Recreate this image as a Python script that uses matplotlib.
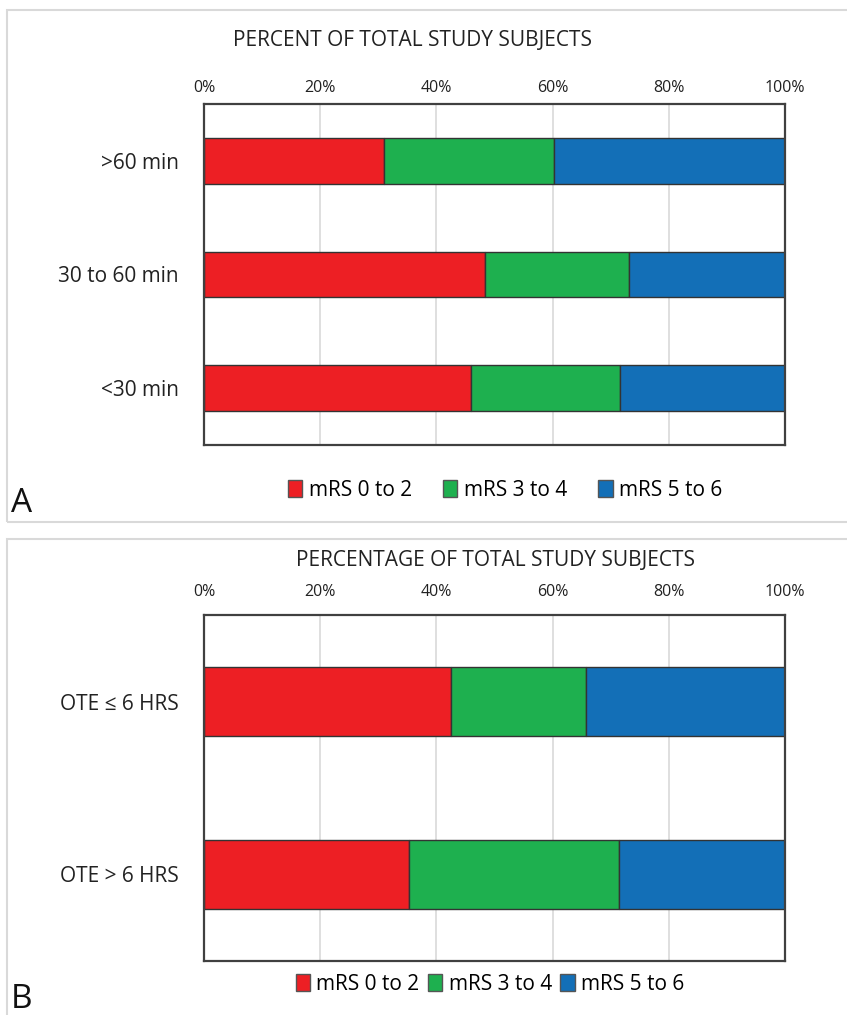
import matplotlib.pyplot as plt
from matplotlib.patches import Rectangle, Patch
import numpy as np

# data (fractions of study subjects)
series = ['mRS 0 to 2', 'mRS 3 to 4', 'mRS 5 to 6']
colors = ['#ED1F24', '#1EB04F', '#136FB7']

cats_a = ['>60 min', '30 to 60 min', '<30 min']
a_02 = [31.0, 48.3, 46.0]
a_34 = [29.2, 24.9, 25.6]
a_56 = [39.8, 26.8, 28.4]

cats_b = ['OTE \u2264 6 HRS', 'OTE > 6 HRS']
b_02 = [42.5, 35.2]
b_34 = [23.3, 36.2]
b_56 = [34.2, 28.6]

ticks = [0, 20, 40, 60, 80, 100]
tick_labels = ['0%', '20%', '40%', '60%', '80%', '100%']

plt.rcParams['font.family'] = ['Open Sans', 'DejaVu Sans']

W, H = 847, 1015
fig = plt.figure(figsize=(W / 100, H / 100), dpi=100)


def fx(px):
    return px / W


def fy(py):
    return 1 - py / H


# panel frames
for top, bot in [(10, 522), (539, 1030)]:
    fig.patches.append(Rectangle((fx(7), fy(bot)), fx(860) - fx(7), fy(top) - fy(bot),
                                 transform=fig.transFigure, fill=False,
                                 edgecolor='#d9d9d9', lw=1.5, zorder=0))


def panel(ax, cats, vals, title, title_x, title_y, label_pad):
    y = np.arange(len(cats))
    left = np.zeros(len(cats))
    for v, c in zip(vals, colors):
        ax.barh(y, v, left=left, height=0.4, color=c, edgecolor='#333333', lw=1.0, zorder=3)
        left += np.array(v)
    ax.set_xlim(0, 100)
    ax.set_ylim(len(cats) - 0.5, -0.5)
    ax.set_yticks(y)
    ax.set_yticklabels(cats, fontsize=15, color='#222222')
    ax.set_xticks(ticks)
    ax.set_xticklabels(tick_labels, fontsize=11.5, color='#222222')
    ax.xaxis.tick_top()
    ax.tick_params(axis='x', length=0, pad=label_pad)
    ax.tick_params(axis='y', length=0, pad=18)
    ax.grid(axis='x', color='#d9d9d9', lw=1.2, zorder=0)
    for s in ax.spines.values():
        s.set_color('#404040')
        s.set_linewidth(1.6)
        s.set_zorder(4)
    fig.text(fx(title_x), fy(title_y), title, ha='center', va='center', fontsize=15, color='#222222')


ax_a = fig.add_axes([fx(204), fy(445), fx(785) - fx(204), fy(104) - fy(445)])
panel(ax_a, cats_a, [a_02, a_34, a_56], 'PERCENT OF TOTAL STUDY SUBJECTS', 412, 41, 6)

ax_b = fig.add_axes([fx(204), fy(961), fx(785) - fx(204), fy(615) - fy(961)])
panel(ax_b, cats_b, [b_02, b_34, b_56], 'PERCENTAGE OF TOTAL STUDY SUBJECTS', 495, 560, 11)

handles = [Patch(facecolor=c, edgecolor='#555555', lw=1) for c in colors]
fig.legend(handles, series, loc='center', bbox_to_anchor=(fx(505), fy(490)), ncol=3,
           frameon=False, fontsize=15, handlelength=0.7, handleheight=0.9,
           handletextpad=0.3, columnspacing=1.5)
fig.legend(handles, series, loc='center', bbox_to_anchor=(fx(490), fy(984)), ncol=3,
           frameon=False, fontsize=15, handlelength=0.7, handleheight=0.9,
           handletextpad=0.3, columnspacing=0.4)

fig.text(fx(11), fy(504), 'A', fontsize=24, va='center', ha='left', color='#111111')
fig.text(fx(11), fy(1000), 'B', fontsize=24, va='center', ha='left', color='#111111')

fig.savefig('out.png', dpi=100, facecolor='white')
